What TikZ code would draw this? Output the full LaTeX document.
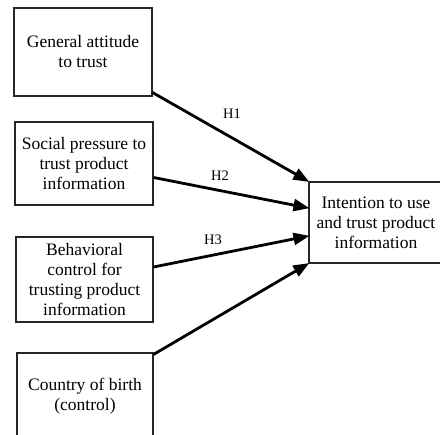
\documentclass[tikz,border=0pt]{standalone}
\usepackage{fontspec}
\setmainfont{Liberation Serif}
\usepackage{tikz}
\usetikzlibrary{arrows.meta, positioning, calc}

\begin{document}
\begin{tikzpicture}[
  x=1pt, y=1pt,
  box/.style={rectangle, draw=black!85, line width=1.1pt, font=\fontsize{17.5}{20}\selectfont, align=center, inner sep=2pt},
  link/.style={-{Triangle[length=16pt, width=12pt]}, line width=2.8pt, shorten >=-1pt},
  hyp/.style={font=\fontsize{14.5}{16}\selectfont}
]
\useasboundingbox (0,0) rectangle (440,435);
\clip (0,0) rectangle (440,435);
\node[box, minimum width=138pt, minimum height=88pt] (att) at (83,383) {General attitude\\to trust};
\node[box, minimum width=138pt, minimum height=83pt] (soc) at (84,271.5) {Social pressure to\\trust product\\information};
\node[box, minimum width=137pt, minimum height=85pt] (beh) at (84.5,155.5) {Behavioral\\control for\\trusting product\\information};
\node[box, minimum width=136pt, minimum height=86pt] (cob) at (85,39) {Country of birth\\(control)};
\node[box, minimum width=134pt, minimum height=81pt] (int) at (376,212.5) {Intention to use\\and trust product\\information};
\draw[link] ([yshift=4pt]att.south east) -- (int.north west);
\draw[link] ([yshift=-14pt]soc.east) -- ([yshift=14.5pt]int.west);
\draw[link] ([yshift=12.5pt]beh.east) -- ([yshift=-13.5pt]int.west);
\draw[link] ([yshift=-2pt]cob.north east) -- (int.south west);
\node[hyp] (h1) at (232,321) {H1};
\node[hyp] (h2) at (220,259) {H2};
\node[hyp] (h3) at (213,195) {H3};
\end{tikzpicture}
\end{document}
